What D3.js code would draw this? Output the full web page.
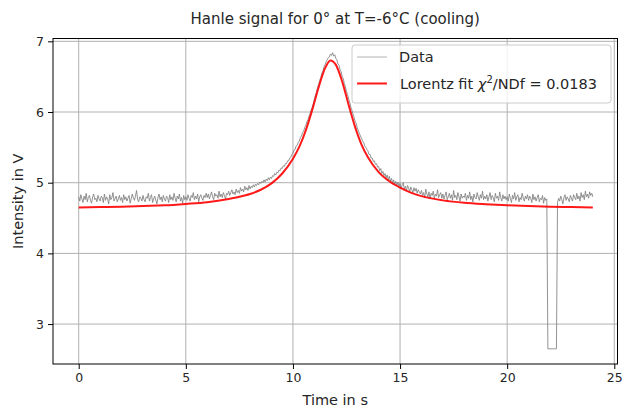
<!DOCTYPE html>
<html>
  <head>
    <meta charset="UTF-8" />
    <script src="https://d3js.org/d3.v7.min.js"></script>
    <style>
      body { margin: 0; background: #fff; }
      text { font-family: "DejaVu Sans", sans-serif; fill: #262626; }
    </style>
    <title>Hanle signal</title>
  </head>
  <body>
    <div id="chart"></div>
    <script type="text/javascript">
      // Messdaten: Startzeit und Abtastschritt (s), Spannung in V (eine Zeile = 1 s)
      const tStart = 0;
      const tStep = 0.05;
      const dataValues = [
        4.80, 4.74, 4.83, 4.77, 4.72, 4.81, 4.76, 4.85, 4.73, 4.79, 4.82, 4.75, 4.71, 4.80, 4.84, 4.76, 4.78, 4.73, 4.82, 4.77,
        4.74, 4.81, 4.79, 4.72, 4.84, 4.75, 4.80, 4.77, 4.70, 4.83, 4.76, 4.79, 4.86, 4.74, 4.78, 4.81, 4.73, 4.77, 4.82, 4.75,
        4.79, 4.72, 4.83, 4.76, 4.80, 4.74, 4.78, 4.82, 4.71, 4.77, 4.84, 4.79, 4.75, 4.81, 4.89, 4.76, 4.73, 4.80, 4.78, 4.74,
        4.82, 4.76, 4.73, 4.80, 4.78, 4.85, 4.74, 4.79, 4.83, 4.72, 4.77, 4.81, 4.75, 4.70, 4.79, 4.84, 4.76, 4.80, 4.73, 4.82,
        4.77, 4.74, 4.81, 4.79, 4.72, 4.83, 4.76, 4.80, 4.75, 4.85, 4.78, 4.73, 4.81, 4.77, 4.84, 4.74, 4.79, 4.71, 4.82, 4.76,
        4.80, 4.75, 4.83, 4.78, 4.74, 4.82, 4.79, 4.86, 4.76, 4.81, 4.77, 4.84, 4.73, 4.80, 4.83, 4.78, 4.75, 4.82, 4.79, 4.85,
        4.79, 4.84, 4.77, 4.82, 4.87, 4.80, 4.76, 4.85, 4.81, 4.83, 4.78, 4.88, 4.80, 4.84, 4.79, 4.86, 4.82, 4.77, 4.85, 4.83,
        4.88, 4.82, 4.86, 4.90, 4.84, 4.87, 4.83, 4.91, 4.86, 4.89, 4.85, 4.93, 4.88, 4.91, 4.87, 4.95, 4.90, 4.93, 4.89, 4.96,
        4.91, 4.95, 4.93, 4.97, 4.94, 4.98, 4.96, 4.99, 4.97, 5.01, 4.99, 5.02, 5.00, 5.04, 5.01, 5.05, 5.03, 5.07, 5.04, 5.08,
        5.06, 5.10, 5.09, 5.13, 5.11, 5.15, 5.14, 5.18, 5.17, 5.21, 5.20, 5.24, 5.23, 5.27, 5.27, 5.31, 5.31, 5.35, 5.36, 5.40,
        5.42, 5.46, 5.47, 5.52, 5.53, 5.57, 5.59, 5.64, 5.66, 5.71, 5.73, 5.78, 5.81, 5.86, 5.89, 5.94, 5.98, 6.03, 6.07, 6.12,
        6.18, 6.24, 6.28, 6.35, 6.39, 6.45, 6.49, 6.55, 6.58, 6.64, 6.67, 6.71, 6.74, 6.77, 6.78, 6.82, 6.80, 6.84, 6.79, 6.81,
        6.76, 6.74, 6.68, 6.66, 6.60, 6.57, 6.50, 6.47, 6.40, 6.36, 6.29, 6.25, 6.18, 6.14, 6.07, 6.03, 5.97, 5.93, 5.87, 5.84,
        5.78, 5.74, 5.70, 5.66, 5.63, 5.59, 5.57, 5.52, 5.50, 5.47, 5.45, 5.40, 5.40, 5.35, 5.35, 5.30, 5.31, 5.26, 5.27, 5.22,
        5.23, 5.17, 5.20, 5.13, 5.16, 5.10, 5.13, 5.07, 5.11, 5.04, 5.09, 5.02, 5.06, 5.00, 5.04, 4.98, 5.02, 4.96, 5.01, 4.95,
        4.99, 4.92, 4.97, 5.00, 4.91, 4.95, 4.89, 4.96, 4.93, 4.87, 4.94, 4.90, 4.86, 4.93, 4.88, 4.92, 4.85, 4.90, 4.87, 4.84,
        4.89, 4.82, 4.86, 4.79, 4.91, 4.84, 4.80, 4.87, 4.77, 4.85, 4.82, 4.88, 4.78, 4.84, 4.81, 4.90, 4.79, 4.83, 4.86, 4.78,
        4.84, 4.77, 4.82, 4.87, 4.76, 4.80, 4.85, 4.78, 4.83, 4.75, 4.89, 4.79, 4.82, 4.76, 4.86, 4.80, 4.74, 4.84, 4.78, 4.81,
        4.79, 4.85, 4.75, 4.82, 4.78, 4.87, 4.76, 4.81, 4.73, 4.84, 4.79, 4.77, 4.86, 4.80, 4.75, 4.83, 4.78, 4.88, 4.76, 4.81,
        4.77, 4.83, 4.74, 4.80, 4.86, 4.76, 4.82, 4.79, 4.73, 4.85, 4.78, 4.81, 4.75, 4.87, 4.79, 4.74, 4.83, 4.77, 4.81, 4.76,
        4.80, 4.74, 4.84, 4.78, 4.72, 4.82, 4.77, 4.86, 4.75, 4.80, 4.83, 4.73, 4.79, 4.76, 4.85, 4.78, 4.74, 4.81, 4.77, 4.83,
        4.75, 4.81, 4.78, 4.72, 4.84, 4.76, 4.80, 4.74, 4.79, 4.83, 4.73, 4.78, 4.76, 4.82, 4.71, 4.79, 4.75, 4.77, 2.65, 2.65,
        2.65, 2.65, 2.65, 2.65, 2.65, 2.65, 2.65, 4.72, 4.78, 4.74, 4.81, 4.76, 4.70, 4.79, 4.83, 4.75, 4.80, 4.77, 4.73, 4.82,
        4.78, 4.74, 4.83, 4.79, 4.76, 4.85, 4.77, 4.81, 4.74, 4.86, 4.79, 4.83, 4.76, 4.88, 4.80, 4.84, 4.78, 4.87, 4.82, 4.85,
        4.80
      ];

      // Lorentz-Fit
      const fitTimes = [0, 1, 2, 3, 4, 5, 6, 7, 7.5, 8, 8.5, 9, 9.5, 10, 10.3, 10.6, 10.9, 11.2, 11.5, 11.75,
        12.0, 12.3, 12.6, 12.9, 13.2, 13.5, 14.0, 14.5, 15, 15.5, 16, 17, 18, 19, 20, 21, 22, 23, 24];
      const fitValues = [4.65, 4.655, 4.66, 4.67, 4.68, 4.70, 4.725, 4.77, 4.80, 4.84, 4.90, 4.99, 5.13, 5.34, 5.51, 5.74, 6.03, 6.35, 6.62, 6.73,
        6.67, 6.43, 6.10, 5.79, 5.54, 5.36, 5.15, 5.02, 4.93, 4.86, 4.81, 4.75, 4.715, 4.695, 4.68, 4.67, 4.66, 4.655, 4.65];

      const xTicks = [0, 5, 10, 15, 20, 25];
      const yTicks = [3, 4, 5, 6, 7];

      const titleText = "Hanle signal for 0° at T=-6°C (cooling)";
      const xLabel = "Time in s";
      const yLabel = "Intensity in V";

      const w = 624;
      const h = 412;
      const plot = { left: 53, right: 617.5, top: 38.5, bottom: 364 };

      const svg = d3.select("#chart").append("svg").attr("width", w).attr("height", h);

      const xScale = d3.scaleLinear().domain([-1.2, 25.15]).range([plot.left, plot.right]);
      const yScale = d3.scaleLinear().domain([2.435, 7.04]).range([plot.bottom, plot.top]);

      // Gitter
      const grid = svg.append("g");
      grid.selectAll(".gx").data(xTicks).enter().append("line")
        .attr("x1", d => xScale(d)).attr("x2", d => xScale(d))
        .attr("y1", plot.top).attr("y2", plot.bottom)
        .attr("stroke", "#b0b0b0").attr("stroke-width", 1);
      grid.selectAll(".gy").data(yTicks).enter().append("line")
        .attr("x1", plot.left).attr("x2", plot.right)
        .attr("y1", d => yScale(d)).attr("y2", d => yScale(d))
        .attr("stroke", "#b0b0b0").attr("stroke-width", 1);

      const dataPoints = dataValues.map((v, i) => ({ t: tStart + i * tStep, v: v }));
      const fitPoints = fitTimes.map((t, i) => ({ t: t, v: fitValues[i] }));

      svg.append("clipPath").attr("id", "clip").append("rect")
        .attr("x", plot.left).attr("y", plot.top)
        .attr("width", plot.right - plot.left).attr("height", plot.bottom - plot.top);

      const line = d3.line().x(d => xScale(d.t)).y(d => yScale(d.v));
      const smooth = d3.line().x(d => xScale(d.t)).y(d => yScale(d.v)).curve(d3.curveMonotoneX);

      svg.append("path").datum(dataPoints)
        .attr("d", line)
        .attr("fill", "none")
        .attr("stroke", "#808080")
        .attr("stroke-opacity", 0.85)
        .attr("stroke-width", 1)
        .attr("clip-path", "url(#clip)");

      svg.append("path").datum(fitPoints)
        .attr("d", smooth)
        .attr("fill", "none")
        .attr("stroke", "#ff0000")
        .attr("stroke-opacity", 0.9)
        .attr("stroke-width", 2)
        .attr("clip-path", "url(#clip)");

      // Achsen
      const xAxis = svg.append("g")
        .attr("transform", "translate(0," + plot.bottom + ")")
        .call(d3.axisBottom(xScale).tickValues(xTicks).tickSize(5).tickPadding(4).tickFormat(d3.format("d")));
      const yAxis = svg.append("g")
        .attr("transform", "translate(" + plot.left + ",0)")
        .call(d3.axisLeft(yScale).tickValues(yTicks).tickSize(5).tickPadding(4).tickFormat(d3.format("d")));
      [xAxis, yAxis].forEach(a => {
        a.select(".domain").remove();
        a.selectAll("text").style("font-size", "12.5px").attr("fill", "#262626")
          .style("font-family", "'DejaVu Sans', sans-serif");
        a.selectAll("line").attr("stroke", "#000");
      });

      // Rahmen
      svg.append("rect")
        .attr("x", plot.left).attr("y", plot.top)
        .attr("width", plot.right - plot.left).attr("height", plot.bottom - plot.top)
        .attr("fill", "none").attr("stroke", "#000").attr("stroke-width", 1);

      svg.append("text").attr("x", (plot.left + plot.right) / 2).attr("y", 24)
        .attr("text-anchor", "middle").style("font-size", "15px").text(titleText);
      svg.append("text").attr("x", (plot.left + plot.right) / 2).attr("y", 405)
        .attr("text-anchor", "middle").style("font-size", "14.5px").text(xLabel);
      svg.append("text")
        .attr("transform", "translate(23," + (plot.top + plot.bottom) / 2 + ") rotate(-90)")
        .attr("text-anchor", "middle").style("font-size", "14.5px").text(yLabel);

      // Legende
      const leg = svg.append("g");
      leg.append("rect").attr("x", 352).attr("y", 45).attr("width", 259).attr("height", 58)
        .attr("rx", 3).attr("fill", "#fff").attr("fill-opacity", 0.8)
        .attr("stroke", "#cccccc").attr("stroke-width", 1);
      leg.append("line").attr("x1", 357).attr("x2", 387).attr("y1", 57).attr("y2", 57)
        .attr("stroke", "#808080").attr("stroke-opacity", 0.6).attr("stroke-width", 1);
      leg.append("text").attr("x", 399).attr("y", 62).style("font-size", "14.5px").text("Data");
      leg.append("line").attr("x1", 357).attr("x2", 387).attr("y1", 83.5).attr("y2", 83.5)
        .attr("stroke", "#ff0000").attr("stroke-opacity", 0.9).attr("stroke-width", 2);
      const lt = leg.append("text").attr("x", 400).attr("y", 89).style("font-size", "14.5px");
      lt.append("tspan").text("Lorentz fit ");
      lt.append("tspan").style("font-style", "italic").text("χ");
      lt.append("tspan").attr("dy", -6).style("font-size", "10px").text("2");
      lt.append("tspan").attr("dy", 6).text("/NDf = 0.0183");
    </script>
  </body>
</html>
